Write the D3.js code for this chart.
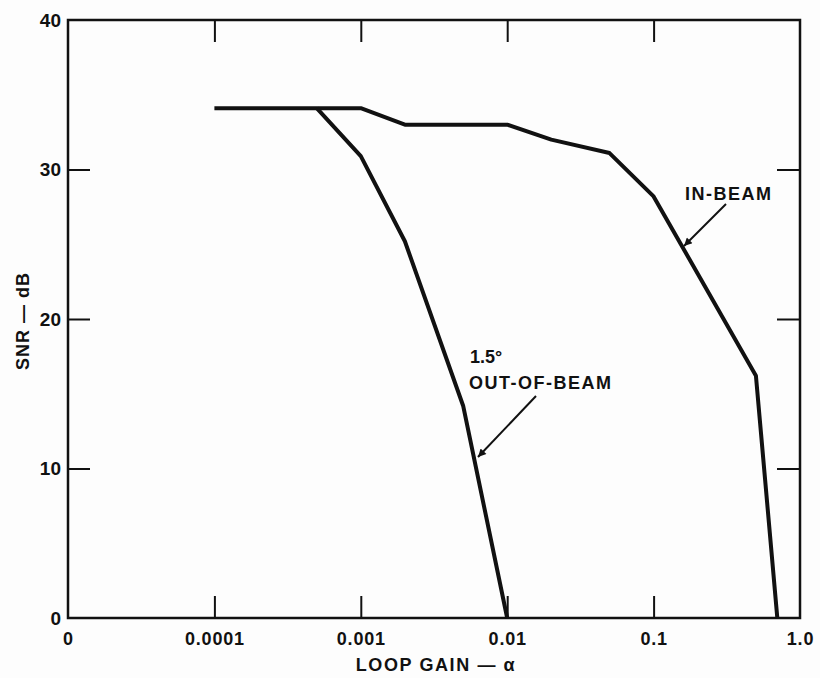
<!DOCTYPE html>
<html><head><meta charset="utf-8">
<script src="https://cdn.jsdelivr.net/npm/d3@7"></script>
<style>
html,body{margin:0;padding:0;background:#fdfdfd;}
svg{display:block;}
text{font-family:"Liberation Sans",Arial,sans-serif;font-weight:bold;fill:#111;}
</style></head>
<body>
<script>
// Data
const xTickValues = [1e-5, 1e-4, 1e-3, 1e-2, 1e-1, 1];
const xTickLabels = ["0", "0.0001", "0.001", "0.01", "0.1", "1.0"];
const yTickValues = [0, 10, 20, 30, 40];
const inBeamX = [0.0001, 0.001, 0.002, 0.01, 0.02, 0.05, 0.1, 0.5, 0.7];
const inBeamY = [34.1, 34.1, 33.0, 33.0, 32.0, 31.1, 28.2, 16.2, 0];
const outBeamX = [0.0005, 0.001, 0.002, 0.005, 0.01];
const outBeamY = [34.1, 30.9, 25.2, 14.2, 0];

const W = 820, H = 678;
const m = {left: 68, right: 20, top: 20, bottom: 60};
const svg = d3.select("body").append("svg").attr("width", W).attr("height", H);

const x = d3.scaleLog().domain([1e-5, 1]).range([m.left, W - m.right]);
const y = d3.scaleLinear().domain([0, 40]).range([H - m.bottom, m.top]);

const fmtX = v => xTickLabels[xTickValues.indexOf(v)];
const innerX = xTickValues.slice(1, -1);
const innerY = yTickValues.slice(1, -1);

// Frame
svg.append("rect").attr("x", x(1e-5)).attr("y", y(40))
  .attr("width", x(1) - x(1e-5)).attr("height", y(0) - y(40))
  .attr("fill", "none").attr("stroke", "#111").attr("stroke-width", 2.5);

// Bottom ticks (inward) + labels
const gB = svg.append("g").attr("transform", `translate(0,${y(0)})`)
  .call(d3.axisBottom(x).tickValues(innerX).tickSize(-22).tickFormat(""));
gB.select(".domain").remove();
gB.selectAll("line").attr("stroke", "#111").attr("stroke-width", 2);

const gBL = svg.append("g").attr("transform", `translate(0,${y(0)})`)
  .call(d3.axisBottom(x).tickValues(xTickValues).tickSize(0).tickPadding(14).tickFormat(fmtX));
gBL.select(".domain").remove();
gBL.selectAll("text").attr("font-size", 18).style("letter-spacing", "0.8px")
  .attr("font-family", "Liberation Sans, Arial, sans-serif").attr("font-weight", "bold").attr("fill", "#111");

// Top ticks
const gT = svg.append("g").attr("transform", `translate(0,${y(40)})`)
  .call(d3.axisTop(x).tickValues(innerX).tickSize(-22).tickFormat(""));
gT.select(".domain").remove();
gT.selectAll("line").attr("stroke", "#111").attr("stroke-width", 2);

// Left ticks + labels
const gL = svg.append("g").attr("transform", `translate(${x(1e-5)},0)`)
  .call(d3.axisLeft(y).tickValues(innerY).tickSize(-22).tickFormat(""));
gL.select(".domain").remove();
gL.selectAll("line").attr("stroke", "#111").attr("stroke-width", 2);

const gLL = svg.append("g").attr("transform", `translate(${x(1e-5)},0)`)
  .call(d3.axisLeft(y).tickValues(yTickValues).tickSize(0).tickPadding(7).tickFormat(d3.format("d")));
gLL.select(".domain").remove();
gLL.selectAll("text").attr("font-size", 19)
  .attr("font-family", "Liberation Sans, Arial, sans-serif").attr("font-weight", "bold").attr("fill", "#111");

// Right ticks
const gR = svg.append("g").attr("transform", `translate(${x(1)},0)`)
  .call(d3.axisRight(y).tickValues(innerY).tickSize(-23).tickFormat(""));
gR.select(".domain").remove();
gR.selectAll("line").attr("stroke", "#111").attr("stroke-width", 2);

// Axis titles
svg.append("text").attr("x", 436).attr("y", 671).attr("text-anchor", "middle")
  .attr("font-size", 18).style("letter-spacing", "1.6px").text("LOOP GAIN — α");
svg.append("text").attr("transform", "translate(29,321) rotate(-90)").attr("text-anchor", "middle")
  .attr("font-size", 18).style("letter-spacing", "1px").text("SNR — dB");

// Curves
const line = d3.line().x(d => x(d[0])).y(d => y(d[1]));
const inBeam = inBeamX.map((v, i) => [v, inBeamY[i]]);
const outBeam = outBeamX.map((v, i) => [v, outBeamY[i]]);
[inBeam, outBeam].forEach(data => {
  svg.append("path").datum(data).attr("d", line)
    .attr("fill", "none").attr("stroke", "#111").attr("stroke-width", 4)
    .attr("stroke-linejoin", "round");
});

// Arrow marker
svg.append("defs").append("marker").attr("id", "arr")
  .attr("viewBox", "0 0 10 10").attr("refX", 10).attr("refY", 5)
  .attr("markerWidth", 18).attr("markerHeight", 8).attr("markerUnits", "userSpaceOnUse")
  .attr("orient", "auto")
  .append("path").attr("d", "M0,0 L10,5 L0,10 Z").attr("fill", "#111");

svg.append("line").attr("x1", 726).attr("y1", 204).attr("x2", 684).attr("y2", 246)
  .attr("stroke", "#111").attr("stroke-width", 2).attr("marker-end", "url(#arr)");
svg.append("line").attr("x1", 536).attr("y1", 396).attr("x2", 478).attr("y2", 457)
  .attr("stroke", "#111").attr("stroke-width", 2).attr("marker-end", "url(#arr)");

// Labels
svg.append("text").attr("x", 685).attr("y", 200).attr("font-size", 18)
  .style("letter-spacing", "1.5px").text("IN-BEAM");
svg.append("text").attr("x", 470).attr("y", 363).attr("font-size", 18)
  .text("1.5°");
svg.append("text").attr("x", 469).attr("y", 389).attr("font-size", 18)
  .style("letter-spacing", "1.5px").text("OUT-OF-BEAM");
</script>
</body></html>
